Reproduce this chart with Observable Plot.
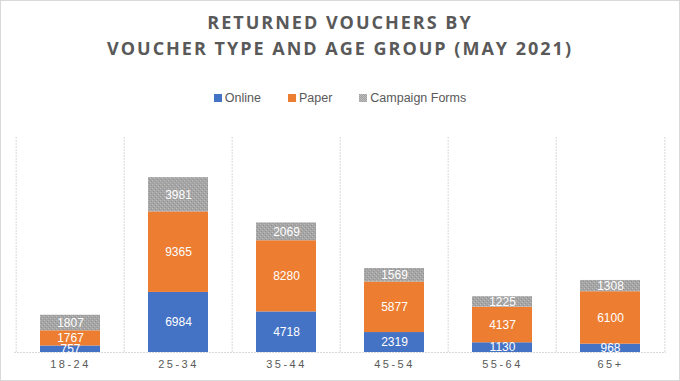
<!DOCTYPE html>
<html>
<head>
<meta charset="utf-8">
<script src="https://cdn.jsdelivr.net/npm/d3@7"></script>
<script src="https://cdn.jsdelivr.net/npm/@observablehq/plot@0.6"></script>
<style>
  html, body { margin: 0; padding: 0; background: #fff; }
  #chart { position: relative; width: 680px; height: 381px; outline: 1px solid #d9d9d9; outline-offset: -1px; overflow: hidden; font-family: "Liberation Sans", Arial, sans-serif; }
  #title { position: absolute; left: 0; top: 9px; width: 680px; text-align: center; font-family: "Open Sans", sans-serif; font-weight: 700; font-size: 18px; line-height: 26px; letter-spacing: 2px; color: #595959; }
  #legend { position: absolute; left: 0; top: 91px; width: 680px; display: flex; justify-content: center; gap: 27px; font-size: 12.5px; color: #595959; }
  #legend .item { display: flex; align-items: center; gap: 3px; }
  #legend .sw { width: 8px; height: 8px; display: inline-block; }
  #plot { position: absolute; left: 0; top: 120px; }
</style>
</head>
<body>
<div id="chart">
  <div id="title">RETURNED VOUCHERS BY<br>VOUCHER TYPE AND AGE GROUP (MAY 2021)</div>
  <div id="legend"></div>
  <div id="plot"></div>
</div>
<script>
const ageGroups = ["18-24", "25-34", "35-44", "45-54", "55-64", "65+"];
const seriesNames = ["Online", "Paper", "Campaign Forms"];
const online = [757, 6984, 4718, 2319, 1130, 968];
const paper = [1767, 9365, 8280, 5877, 4137, 6100];
const campaign = [1807, 3981, 2069, 1569, 1225, 1308];
const seriesColors = ["#4472C4", "#ED7D31", "url(#cfPattern)"];

const seriesValues = [online, paper, campaign];
const data = [];
seriesNames.forEach((s, si) => {
  ageGroups.forEach((g, gi) => {
    data.push({group: g, series: s, value: seriesValues[si][gi]});
  });
});

const W = 680, H = 260, mL = 14, mR = 14;
const step = (W - mL - mR) / ageGroups.length;

const plot = Plot.plot({
  width: W,
  height: H,
  marginLeft: mL,
  marginRight: mR,
  marginTop: 17,
  marginBottom: 28,
  style: {fontFamily: "Liberation Sans, Arial, sans-serif", background: "transparent"},
  x: {domain: ageGroups, paddingInner: 0.44, paddingOuter: 0.22, label: null, tickSize: 0, tickPadding: 9},
  y: {domain: [0, 25000], axis: null},
  color: {domain: seriesNames, range: seriesColors},
  marks: [
    Plot.ruleX(ageGroups, {x: d => d, dx: -step / 2, stroke: "#d9d9d9", strokeDasharray: "2,1"}),
    Plot.ruleX([ageGroups[ageGroups.length - 1]], {x: d => d, dx: step / 2, stroke: "#d9d9d9", strokeDasharray: "2,1"}),
    Plot.barY(data, {x: "group", y: "value", fill: "series", z: "series", order: seriesNames}),
    Plot.ruleY([0], {stroke: "#d9d9d9", strokeDasharray: "2,1"}),
    Plot.text(data, Plot.stackY({x: "group", y: "value", z: "series", order: seriesNames, text: d => String(d.value), fill: "white", fontSize: 12})),
    Plot.axisX({tickSize: 0, tickPadding: 8, fontSize: 11, fill: "#595959", tickFormat: d => d})
  ]
});

// pattern for Campaign Forms
const svgNS = "http://www.w3.org/2000/svg";
const defs = document.createElementNS(svgNS, "defs");
defs.innerHTML = `<pattern id="cfPattern" patternUnits="userSpaceOnUse" width="4" height="4">
  <rect width="4" height="4" fill="#A5A5A5"/>
  <rect x="0" y="0" width="1" height="1" fill="#bdbdbd"/>
  <rect x="2" y="2" width="1" height="1" fill="#bdbdbd"/>
  <rect x="1" y="3" width="1" height="1" fill="#959595"/>
  <rect x="3" y="1" width="1" height="1" fill="#959595"/>
</pattern>`;
plot.insertBefore(defs, plot.firstChild);
plot.querySelectorAll("g[aria-label='x-axis tick label'] text, g[aria-label='x-axis tick label']").forEach(el => el.style.letterSpacing = "2.5px");
document.getElementById("plot").appendChild(plot);

// legend
const legend = document.getElementById("legend");
seriesNames.forEach((s, i) => {
  const item = document.createElement("span");
  item.className = "item";
  const sw = document.createElement("span");
  sw.className = "sw";
  if (i === 2) {
    sw.style.background = "repeating-conic-gradient(#bdbdbd 0 25%, #a0a0a0 0 50%) 0 0 / 2px 2px";
  } else {
    sw.style.background = seriesColors[i];
  }
  const t = document.createElement("span");
  t.textContent = s;
  item.appendChild(sw);
  item.appendChild(t);
  legend.appendChild(item);
});
</script>
</body>
</html>
